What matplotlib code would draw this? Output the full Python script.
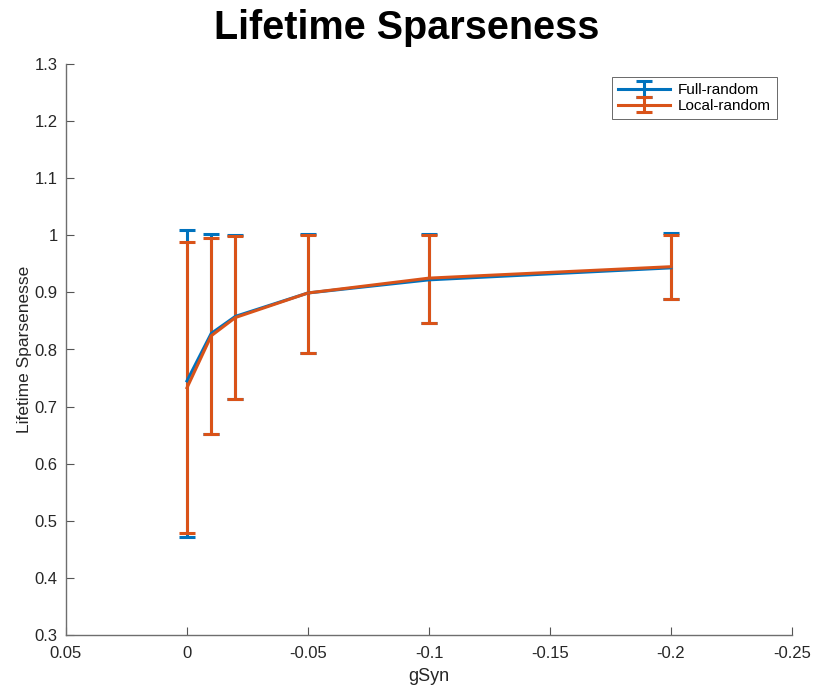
import matplotlib.pyplot as plt
from matplotlib.ticker import FuncFormatter

plt.rcParams["font.family"] = ["Liberation Sans", "DejaVu Sans"]

gsyn = [0, -0.01, -0.02, -0.05, -0.1, -0.2]

full_mean = [0.745, 0.828, 0.858, 0.899, 0.922, 0.943]
full_low = [0.471, 0.652, 0.713, 0.794, 0.846, 0.889]
full_high = [1.009, 1.002, 1.001, 1.002, 1.002, 1.004]

local_mean = [0.733, 0.824, 0.856, 0.899, 0.925, 0.945]
local_low = [0.479, 0.652, 0.713, 0.794, 0.846, 0.889]
local_high = [0.989, 0.995, 0.999, 1.001, 1.001, 1.001]

blue = "#0072BD"
orange = "#D95319"

fig = plt.figure(figsize=(8.13, 6.85), dpi=100)
ax = fig.add_axes([66 / 813, 50 / 685, 726 / 813, 571 / 685])

for mean, low, high, color, label in [
    (full_mean, full_low, full_high, blue, "Full-random"),
    (local_mean, local_low, local_high, orange, "Local-random"),
]:
    err = [[m - lo for m, lo in zip(mean, low)], [hi - m for m, hi in zip(mean, high)]]
    ax.errorbar(gsyn, mean, yerr=err, color=color, lw=2.2, elinewidth=2.2,
                capsize=6, capthick=2.2, label=label)

ax.set_xlim(0.05, -0.25)
ax.set_ylim(0.3, 1.3)
ax.set_xticks([0.05, 0, -0.05, -0.1, -0.15, -0.2, -0.25])
ax.set_yticks([0.3, 0.4, 0.5, 0.6, 0.7, 0.8, 0.9, 1.0, 1.1, 1.2, 1.3])
fmt = FuncFormatter(lambda v, p: "%g" % round(v, 4))
ax.xaxis.set_major_formatter(fmt)
ax.yaxis.set_major_formatter(fmt)

for s in ["top", "right"]:
    ax.spines[s].set_visible(False)
for s in ["left", "bottom"]:
    ax.spines[s].set_color("#6e6e6e")
    ax.spines[s].set_linewidth(1.0)
ax.tick_params(direction="in", length=6, width=0.8, color="#555555",
               labelsize=12, labelcolor="#262626")
ax.tick_params(axis="x", pad=8)
ax.tick_params(axis="y", pad=6)

ax.set_xlabel("gSyn", fontsize=13, color="#262626", labelpad=5)
ax.set_ylabel("Lifetime Sparsenesse", fontsize=12.5, color="#262626", labelpad=2)
fig.text(0.5, 1 - 28 / 685, "Lifetime Sparseness", fontsize=28.5,
         fontweight="bold", ha="center", va="center")

leg = ax.legend(loc="upper right", bbox_to_anchor=(0.99, 0.99), fontsize=11,
                frameon=True, fancybox=False, handlelength=3.4, borderpad=0.4,
                labelspacing=0.1, handletextpad=0.5)
leg.get_frame().set_edgecolor("#262626")
leg.get_frame().set_linewidth(0.6)

fig.savefig("out.png", dpi=100)
